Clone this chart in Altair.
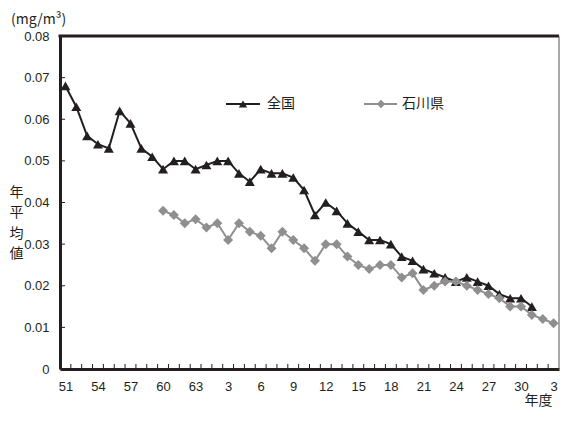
import altair as alt
import pandas as pd

# ---- data ----
YEAR_LABELS = [str(y) for y in range(51, 64)] + [str(y) for y in range(1, 31)] + ["1", "2", "3"]
SERIES = ["全国", "石川県"]
NATIONAL = [0.068, 0.063, 0.056, 0.054, 0.053, 0.062, 0.059, 0.053, 0.051, 0.048,
            0.050, 0.050, 0.048, 0.049, 0.050, 0.050, 0.047, 0.045, 0.048, 0.047,
            0.047, 0.046, 0.043, 0.037, 0.040, 0.038, 0.035, 0.033, 0.031, 0.031,
            0.030, 0.027, 0.026, 0.024, 0.023, 0.022, 0.021, 0.022, 0.021, 0.020,
            0.018, 0.017, 0.017, 0.015]
ISHIKAWA_START = 9
ISHIKAWA = [0.038, 0.037, 0.035, 0.036, 0.034, 0.035, 0.031, 0.035, 0.033, 0.032,
            0.029, 0.033, 0.031, 0.029, 0.026, 0.030, 0.030, 0.027, 0.025, 0.024,
            0.025, 0.025, 0.022, 0.023, 0.019, 0.020, 0.021, 0.021, 0.020, 0.019,
            0.018, 0.017, 0.015, 0.015, 0.013, 0.012, 0.011]
Y_TICKS = [0, 0.01, 0.02, 0.03, 0.04, 0.05, 0.06, 0.07, 0.08]
X_LABEL_STEP = 3

rows = []
for i, v in enumerate(NATIONAL):
    rows.append({"idx": i, "value": v, "series": SERIES[0]})
for j, v in enumerate(ISHIKAWA):
    rows.append({"idx": ISHIKAWA_START + j, "value": v, "series": SERIES[1]})
df = pd.DataFrame(rows)

BLACK = "#231f20"
GREY = "#8f8f8f"
NUM_FONT = "Liberation Sans"
JP_FONT = "Noto Sans CJK JP"
PAD_L = 52
W, H = 499, 333
n = len(YEAR_LABELS)

x_scale = alt.Scale(domain=[-0.5, n - 0.5], nice=False, zero=False)
y_scale = alt.Scale(domain=[0, 0.08], nice=False, zero=True)

label_expr = "[" + ",".join(f"'{l}'" for l in YEAR_LABELS) + "][datum.value]"

x_axis = alt.Axis(
    values=list(range(0, n, X_LABEL_STEP)), labelExpr=label_expr, ticks=False, grid=False,
    labelOverlap=False, labelBound=False, labelFlush=False,
    domainWidth=3, domainColor=BLACK, labelFont=NUM_FONT, labelFontSize=13, labelColor=BLACK,
    labelPadding=11, title="年度", titleFont=JP_FONT, titleFontSize=14, titleFontWeight="normal",
    titleColor=BLACK, titleX=W - 7, titleY=31, titleAlign="right", titleBaseline="middle",
)
y_axis = alt.Axis(
    values=Y_TICKS, labelExpr="datum.value == 0 ? '0' : format(datum.value, '.2f')",
    labelOverlap=False, labelBound=False, labelFlush=False,
    ticks=False, grid=False, domainWidth=3, domainColor=BLACK, labelFont=NUM_FONT,
    labelFontSize=13, labelColor=BLACK, labelPadding=11,
    title=["年", "平", "均", "値"], titleAngle=0, titleX=-PAD_L + 8, titleY=149, titleAlign="center",
    titleBaseline="top", titleLineHeight=20.5, titleFont=JP_FONT, titleFontSize=14,
    titleFontWeight="normal", titleColor=BLACK,
)

X = lambda f: alt.X(f, scale=x_scale, axis=x_axis)
Y = lambda f: alt.Y(f, scale=y_scale, axis=y_axis)

base = alt.Chart(df)
nat = base.transform_filter(alt.datum.series == SERIES[0]).mark_line(
    color=BLACK, strokeWidth=2,
    point=alt.OverlayMarkDef(shape="triangle-up", size=100, filled=True, color=BLACK, opacity=1),
).encode(x=X("idx:Q"), y=Y("value:Q"))
ish = base.transform_filter(alt.datum.series == SERIES[1]).mark_line(
    color=GREY, strokeWidth=2,
    point=alt.OverlayMarkDef(shape="diamond", size=100, filled=True, color=GREY, opacity=1),
).encode(x=X("idx:Q"), y=Y("value:Q"))

# inward ticks
ytick = alt.Chart(pd.DataFrame({"value": Y_TICKS})).mark_rule(color=BLACK, strokeWidth=1).encode(
    y=Y("value:Q"), x=alt.value(0), x2=alt.value(5)
)
xtick = alt.Chart(pd.DataFrame({"idx": [i + 0.5 for i in range(n - 1)]})).mark_rule(
    color=BLACK, strokeWidth=1
).encode(x=X("idx:Q"), y=alt.value(H), y2=alt.value(H - 5))

# frame
top = alt.Chart(pd.DataFrame({"s": [0]})).mark_rule(color=BLACK, strokeWidth=3).encode(
    x=alt.value(-1.5), x2=alt.value(W), y=alt.value(0)
)
right = alt.Chart(pd.DataFrame({"s": [0]})).mark_rule(color="#555555", strokeWidth=1).encode(
    x=alt.value(W), y=alt.value(0), y2=alt.value(H)
)

# unit label
unit = alt.Chart(pd.DataFrame({"t": ["(mg/m³)"]})).mark_text(
    font=JP_FONT, fontSize=14, color=BLACK, align="left", baseline="middle"
).encode(x=alt.value(-PAD_L + 3), y=alt.value(-16), text="t:N")

# legend
leg_nat = pd.DataFrame({"series": [SERIES[0]]})
leg_ish = pd.DataFrame({"series": [SERIES[1]]})
LY = 68
legend = [
    alt.Chart(leg_nat).mark_rule(color=BLACK, strokeWidth=2).encode(
        x=alt.value(166), x2=alt.value(200), y=alt.value(LY)),
    alt.Chart(leg_nat).mark_point(shape="triangle-up", size=70, filled=True, color=BLACK, opacity=1).encode(
        x=alt.value(183), y=alt.value(LY)),
    alt.Chart(leg_nat).mark_text(font=JP_FONT, fontSize=14, color=BLACK, align="left", baseline="middle").encode(
        x=alt.value(207), y=alt.value(LY), text="series:N"),
    alt.Chart(leg_ish).mark_rule(color=GREY, strokeWidth=2).encode(
        x=alt.value(304), x2=alt.value(337), y=alt.value(LY)),
    alt.Chart(leg_ish).mark_point(shape="diamond", size=70, filled=True, color=GREY, opacity=1).encode(
        x=alt.value(321), y=alt.value(LY)),
    alt.Chart(leg_ish).mark_text(font=JP_FONT, fontSize=14, color=BLACK, align="left", baseline="middle").encode(
        x=alt.value(342), y=alt.value(LY), text="series:N"),
]

chart = alt.layer(nat, ish, ytick, xtick, top, right, unit, *legend).properties(
    width=W, height=H,
    autosize=alt.AutoSizeParams(type="none"),
    padding={"left": PAD_L, "top": 28, "right": 1, "bottom": 39},
).configure_view(stroke=None).configure_axis(grid=False, ticks=False, labelOverlap=False)

chart.save("out.html", embed_options={"renderer": "svg", "actions": False})
